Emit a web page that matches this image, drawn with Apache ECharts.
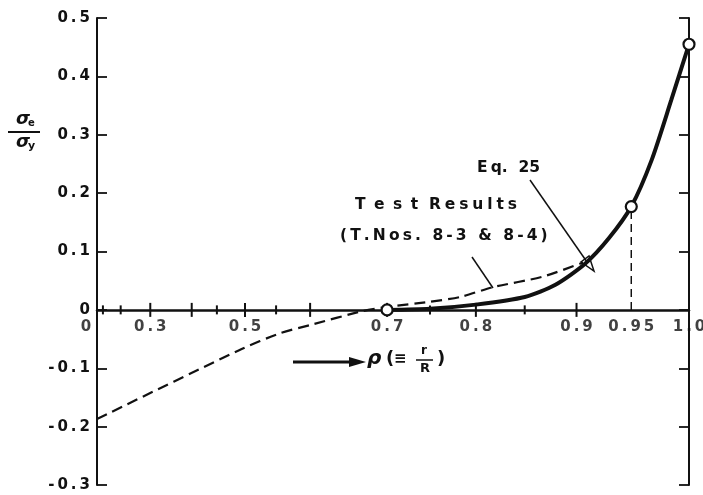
<!DOCTYPE html>
<html>
<head>
<meta charset="utf-8">
<script src="https://cdn.jsdelivr.net/npm/echarts@6/dist/echarts.min.js"></script>
<style>
html,body{margin:0;padding:0;background:#fff;}
#chart{width:703px;height:495px;}
</style>
</head>
<body>
<div id="chart"></div>
<script>
// ---- data (rho = r/R, plotted on a rho^2-scaled axis as in the original) ----
const eqRho = [0.70, 0.75, 0.80, 0.85, 0.88, 0.908, 0.93, 0.95, 0.968, 0.985, 1.0];
const eqVal = [0.0, 0.002, 0.009, 0.022, 0.043, 0.079, 0.123, 0.177, 0.257, 0.36, 0.455];
const testRho = [0.0, 0.49, 0.556, 0.60, 0.67, 0.70, 0.75, 0.783, 0.818, 0.868, 0.906];
const testVal = [-0.187, -0.069, -0.040, -0.026, -0.002, 0.005, 0.014, 0.022, 0.039, 0.057, 0.081];
const circleRho = [0.70, 0.95, 1.0];
const circleVal = [0.0, 0.177, 0.455];
const xLabelRho = [0, 0.3, 0.5, 0.7, 0.8, 0.9, 0.95, 1.0];
const xLabelText = ['0', '0.3', '0.5', '0.7', '0.8', '0.9', '0.95', '1.0'];
const xMajorTickRho = [0.3, 0.4, 0.5, 0.6, 0.7, 0.8, 0.9];
const xMinorTickRho = [0.1, 0.2, 0.45, 0.55, 0.75, 0.85];
const yMin = -0.3, yMax = 0.5, yStep = 0.1;

const sq = r => r * r;
const sp = s => s.split('').join('\u2009');
const FONT = 'DejaVu Sans';
const INK = '#111';

const chart = echarts.init(document.getElementById('chart'), null, {renderer: 'canvas'});

function yAxisBase(pos, labels) {
  return {
    type: 'value', min: yMin, max: yMax, interval: yStep, position: pos,
    axisLine: {show: true, onZero: false, lineStyle: {color: INK, width: 2}},
    axisTick: {show: true, inside: true, length: 10, lineStyle: {color: INK, width: 1.8}},
    axisLabel: labels ? {
      show: true, margin: 7, color: INK, fontFamily: FONT, fontWeight: 'bold', fontSize: 15,
      formatter: v => sp(Math.abs(v) < 1e-9 ? '0' : v.toFixed(1))
    } : {show: false},
    splitLine: {show: false}
  };
}

function tickSeries(rhos, h) {
  return {
    type: 'scatter', silent: true,
    data: rhos.map(r => [sq(r), 0]),
    symbol: 'rect', symbolSize: [2, h],
    itemStyle: {color: INK, opacity: 1}, z: 3
  };
}

const option = {
  backgroundColor: '#fff',
  animation: false,
  grid: {left: 97, right: 14, top: 18, bottom: 10, containLabel: false},
  xAxis: {
    type: 'value', min: 0, max: 1,
    axisLine: {show: true, onZero: true, lineStyle: {color: INK, width: 2.5}},
    axisTick: {show: false}, axisLabel: {show: false}, splitLine: {show: false}
  },
  yAxis: [yAxisBase('left', true), yAxisBase('right', false)],
  series: [
    {
      name: 'Test Results', type: 'line',
      data: testRho.map((r, i) => [sq(r), testVal[i]]),
      showSymbol: false, smooth: 0.25,
      lineStyle: {color: INK, width: 2.2, type: [11, 6]}
    },
    {
      name: 'Eq. 25', type: 'line',
      data: eqRho.map((r, i) => [sq(r), eqVal[i]]),
      showSymbol: false, smooth: 0.25,
      lineStyle: {color: INK, width: 4}
    },
    {
      name: 'drop', type: 'line',
      data: [[sq(circleRho[1]), 0], [sq(circleRho[1]), circleVal[1]]],
      showSymbol: false,
      lineStyle: {color: INK, width: 1.5, type: [8, 5]}
    },
    tickSeries(xMajorTickRho, 14),
    tickSeries(xMinorTickRho, 9),
    {
      name: 'xlabels', type: 'scatter', silent: true,
      data: xLabelRho.map((r, i) => ({
        value: [sq(r), 0],
        label: {offset: [i === 0 ? -11 : 0, 0]}
      })),
      symbolSize: 0,
      label: {
        show: true, position: 'bottom', distance: 10,
        color: INK, fontFamily: FONT, fontWeight: 'bold', fontSize: 15,
        formatter: p => sp(xLabelText[p.dataIndex])
      }
    },
    {
      name: 'points', type: 'scatter',
      data: circleRho.map((r, i) => [sq(r), circleVal[i]]),
      symbol: 'circle', symbolSize: 11,
      itemStyle: {color: '#fff', borderColor: INK, borderWidth: 2.2, opacity: 1},
      z: 5
    }
  ],
  graphic: [
    // y-axis title sigma_e / sigma_y
    {type: 'text', left: 16, top: 110, style: {text: 'σ', font: 'italic bold 18px ' + FONT, fill: INK}},
    {type: 'text', left: 28, top: 118, style: {text: 'e', font: 'bold 10px ' + FONT, fill: INK}},
    {type: 'line', shape: {x1: 8, y1: 132, x2: 40, y2: 132}, style: {stroke: INK, lineWidth: 2}},
    {type: 'text', left: 16, top: 133, style: {text: 'σ', font: 'italic bold 18px ' + FONT, fill: INK}},
    {type: 'text', left: 28, top: 141, style: {text: 'y', font: 'bold 11px ' + FONT, fill: INK}},
    // x-axis title  -> rho (= r/R)
    {type: 'line', shape: {x1: 293, y1: 362, x2: 352, y2: 362}, style: {stroke: INK, lineWidth: 3}},
    {type: 'polygon', shape: {points: [[349, 357], [366, 362], [349, 367]]}, style: {fill: INK}},
    {type: 'text', left: 367, top: 349, style: {text: 'ρ', font: 'italic bold 20px ' + FONT, fill: INK}},
    {type: 'text', left: 386, top: 350, style: {text: '(', font: 'bold 18px ' + FONT, fill: INK}},
    {type: 'text', left: 394, top: 352, style: {text: '≡', font: 'bold 15px ' + FONT, fill: INK}},
    {type: 'text', left: 421, top: 345, style: {text: 'r', font: 'bold 12px ' + FONT, fill: INK}},
    {type: 'line', shape: {x1: 416, y1: 360, x2: 433, y2: 360}, style: {stroke: INK, lineWidth: 1.5}},
    {type: 'text', left: 420, top: 362, style: {text: 'R', font: 'bold 13px ' + FONT, fill: INK}},
    {type: 'text', left: 437, top: 350, style: {text: ')', font: 'bold 18px ' + FONT, fill: INK}},
    // annotations
    {type: 'text', left: 477, top: 160, style: {text: 'E\u2009q.  25', font: 'bold 15.5px ' + FONT, fill: INK}},
    {type: 'line', shape: {x1: 530, y1: 180, x2: 587, y2: 262}, style: {stroke: INK, lineWidth: 1.5}},
    {type: 'polygon', shape: {points: [[581, 262], [594, 271], [589, 256]]}, style: {fill: 'none', stroke: INK, lineWidth: 1.5}},
    {type: 'text', left: 355, top: 197, style: {text: 'Test'.split('').join(' \u2009') + '  ' + 'Results'.split('').join('\u2005'), font: 'bold 15.5px ' + FONT, fill: INK}},
    {type: 'text', left: 340, top: 228, style: {text: sp('(T.Nos. 8-3 & 8-4)'), font: 'bold 15.5px ' + FONT, fill: INK}},
    {type: 'line', shape: {x1: 472, y1: 257, x2: 493, y2: 288}, style: {stroke: INK, lineWidth: 1.5}}
  ]
};
chart.setOption(option);
</script>
</body>
</html>
